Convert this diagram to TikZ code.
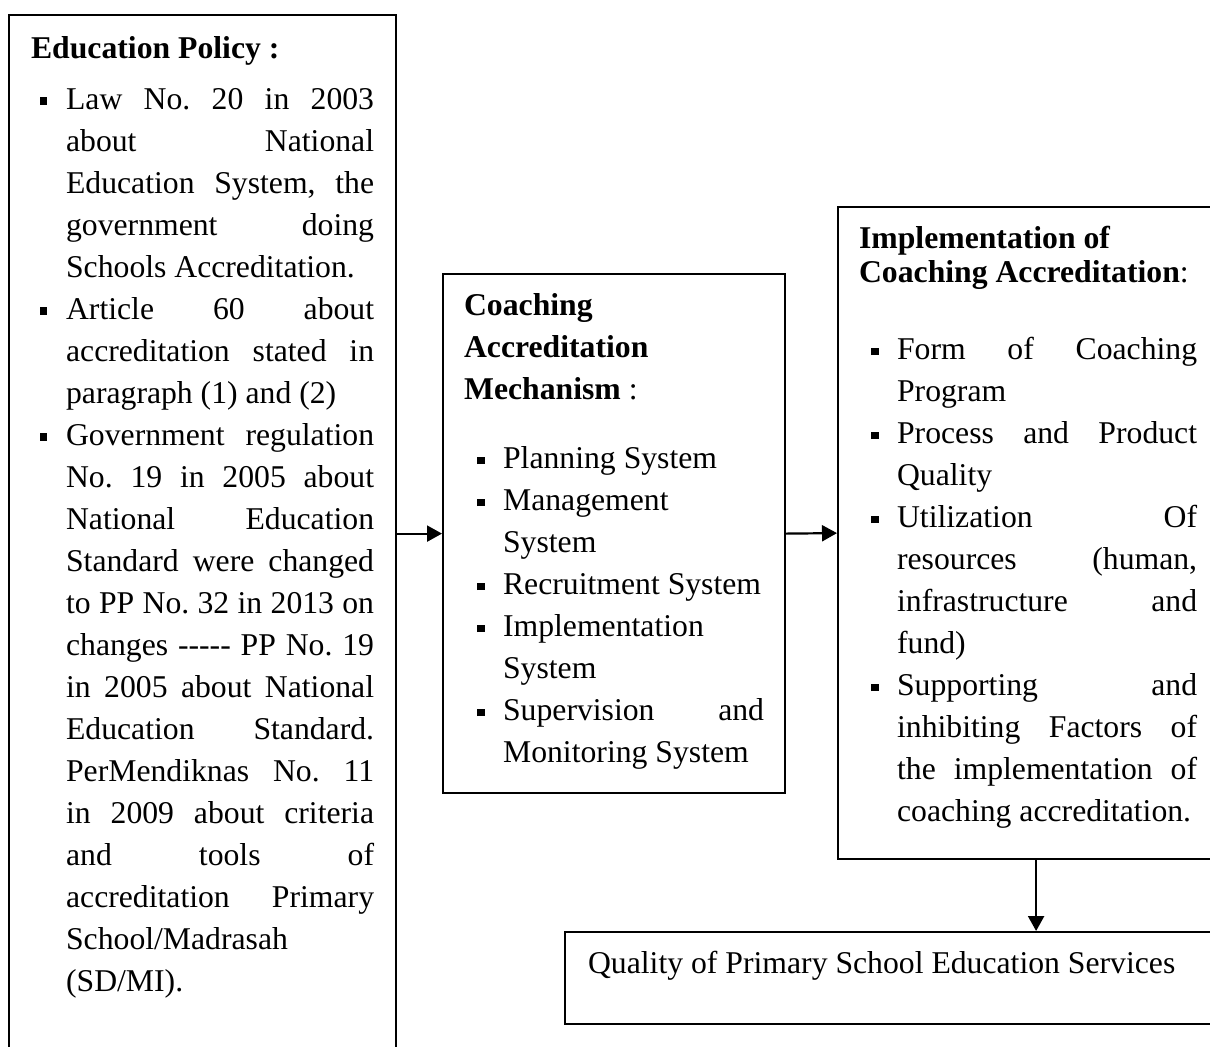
\documentclass[tikz,border=0pt]{standalone}
\usepackage{fontspec}
\setmainfont{Liberation Serif}
\usetikzlibrary{arrows.meta}

\newlength{\sqind}
\newlength{\sqoff}
\newcommand{\sqitem}{\par\hangindent=\sqind\hangafter=1\noindent
  \hbox to \sqind{\hskip\sqoff\rule[2.2pt]{3.7pt}{3.7pt}\hfil}}
\hbadness=10000
\tolerance=10000

\begin{document}
\frenchspacing
\begin{tikzpicture}[x=0.5pt, y=-0.5pt,
    font=\fontsize{15.85}{21}\selectfont,
    box/.style={draw, line width=1.1pt, anchor=north west, inner ysep=6pt, inner xsep=10.5pt},
    arr/.style={line width=1.1pt, -{Triangle[length=7.5pt,width=8pt]}}]
    \useasboundingbox (0,0) rectangle (1210,1046);
    \clip (0,0) rectangle (1210,1046);

    % Education policy (left)
    \node[box, inner xsep=11pt, inner ysep=6.8pt] (policy) at (8,14) {\parbox[t][530pt][t]{171.5pt}{%
        \setlength{\sqind}{17.5pt}\setlength{\sqoff}{4.5pt}%
        \rule{0pt}{14.7pt}\textbf{Education Policy :}\par\vspace{4.5pt}
        \sqitem Law No. 20 in 2003\linebreak about National\linebreak Education System, the\linebreak government doing\linebreak Schools Accreditation.
        \sqitem Article 60 about\linebreak accreditation stated in\linebreak paragraph (1) and (2)
        \sqitem Government regulation\linebreak No. 19 in 2005 about\linebreak National Education\linebreak Standard were changed\linebreak to PP No. 32 in 2013 on\linebreak changes \mbox{-}\mbox{-}\mbox{-}\mbox{-}\mbox{-} PP No. 19\linebreak in 2005 about National\linebreak Education Standard.\linebreak PerMendiknas No. 11\linebreak in 2009 about criteria\linebreak and tools of\linebreak accreditation Primary\linebreak School/Madrasah\linebreak (SD/MI).}};

    % Coaching accreditation mechanism (middle)
    \node[box] (mech) at (442,273) {\parbox[t][247.5pt][t]{150pt}{%
        \setlength{\sqind}{19.5pt}\setlength{\sqoff}{6.5pt}%
        \rule{0pt}{14.7pt}\textbf{Coaching}\\\textbf{Accreditation}\\\textbf{Mechanism} :\par\vspace{13.5pt}
        \sqitem Planning System
        \sqitem Management\linebreak System
        \sqitem Recruitment System
        \sqitem Implementation\linebreak System
        \sqitem Supervision and\linebreak Monitoring System}};

    % Implementation (right)
    \node[box] (impl) at (837,206) {\parbox[t][314pt][t]{169pt}{%
        \setlength{\sqind}{19pt}\setlength{\sqoff}{6pt}%
        {\fontsize{15.85}{17}\selectfont\rule{0pt}{14.7pt}\textbf{Implementation of}\\\textbf{Coaching Accreditation}:\par}\vspace{17.5pt}
        \sqitem Form of Coaching\linebreak Program
        \sqitem Process and Product\linebreak Quality
        \sqitem Utilization Of\linebreak resources (human,\linebreak infrastructure and\linebreak fund)
        \sqitem Supporting and\linebreak inhibiting Factors of\linebreak the implementation of\linebreak coaching accreditation.}};

    % Quality (bottom)
    \node[box, inner xsep=11.5pt] (quality) at (564,931) {\parbox[t][34pt][t]{305pt}{%
        \rule{0pt}{14.7pt}Quality of Primary School Education Services}};

    % Arrows
    \draw[arr] (policy.east |- mech.west) -- (mech.west);
    \draw[arr] (mech.east) -- (impl.west);
    \draw[arr] ([xshift=4pt]impl.south) -- ([xshift=4pt]impl.south |- quality.north);
\end{tikzpicture}
\end{document}
